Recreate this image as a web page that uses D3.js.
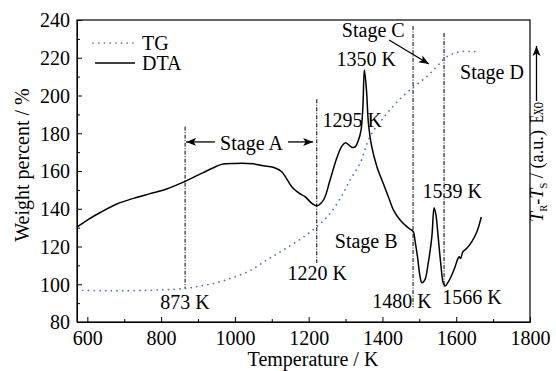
<!DOCTYPE html>
<html>
<head>
<meta charset="utf-8">
<script src="https://cdn.jsdelivr.net/npm/d3@7"></script>
<style>
  body { margin: 0; background: #fff; }
  svg text { font-family: "Liberation Serif", "Times New Roman", serif; }
</style>
</head>
<body>
<div id="chart"></div>
<script>
// DTA curve (temperature K, signal in weight-% axis units)
const dtaTemp = [572, 600, 635, 680, 725, 770, 815, 865, 900, 937, 964, 1000, 1050, 1077, 1104, 1127,
  1140, 1154, 1172, 1190, 1208, 1222, 1240, 1258, 1276, 1290, 1300, 1317, 1326, 1335, 1342, 1347,
  1351, 1357, 1362, 1371, 1385, 1402, 1416, 1430, 1448, 1466, 1479, 1484, 1488, 1495, 1502, 1507,
  1515, 1524, 1534, 1540, 1545, 1551, 1558, 1565, 1570, 1579, 1588, 1597, 1603, 1608, 1612, 1618,
  1628, 1642, 1656, 1668];
const dtaValue = [130.3, 134, 138, 142.5, 145.5, 148, 150.5, 154.5, 157.8, 161.3, 163.5, 164, 163.8, 162.8, 162, 159.6,
  156, 151.7, 148.5, 146.4, 143, 141.6, 144.6, 155.2, 166.7, 173.2, 175, 172.6, 172.8, 176.4, 181.7, 194,
  213.5, 202, 185.3, 172.9, 162.3, 153.5, 146.4, 139.3, 134, 130.5, 128.7, 127.8, 123.4, 114.6, 104, 100.8,
  102.3, 111.1, 125.2, 140.5, 136.7, 125.2, 111.1, 100.5, 99.1, 101.4, 104.9, 109.3, 112.8, 114.6, 113.7, 117.2,
  119, 122.5, 127.8, 135.6];

// TG curve
const tgTemp = [588, 640, 700, 800, 866, 906, 951, 996, 1041, 1086, 1131, 1177, 1222, 1258, 1290, 1312,
  1339, 1366, 1398, 1439, 1484, 1520, 1547, 1574, 1610, 1640, 1664];
const tgValue = [96.8, 96.6, 96.6, 97, 97.8, 99.1, 100.8, 103.7, 107.2, 112.8, 118.1, 123.8, 130.5, 137.5, 147, 155.2,
  164, 178.2, 187, 196.5, 204.5, 210, 215.3, 220.5, 223.2, 223.3, 223.2];

// stage boundary lines: temperature, top and bottom value
const stageTemps = [865, 1222, 1483, 1567];
const stageTops = [183.5, 198, 236.8, 233.1];
const stageBottoms = [97.8, 111.3, 87.8, 98.5];

const xTicks = [600, 800, 1000, 1200, 1400, 1600, 1800];
const yTicks = [80, 100, 120, 140, 160, 180, 200, 220, 240];

// text annotations: label, temperature, value
const labelText = ['873 K', '1220 K', '1295 K', '1350 K', 'Stage A', 'Stage B', 'Stage C', 'Stage D',
  '1539 K', '1480 K', '1566 K'];
const labelTemp = [865, 1223, 1318, 1356, 1045, 1356, 1375, 1697, 1589, 1453, 1643];
const labelValue = [86.9, 102.3, 183.5, 215.6, 171.1, 119.2, 231.2, 208.7, 145.7, 87.6, 89.5];

// arrows: [t0, v0, t1, v1]
const arrows = [
  [946, 175.4, 868, 175.4],
  [1144, 175.4, 1212, 175.4],
  [1418, 229.4, 1526, 216.7]
];

const width = 556;
const height = 371;
const margins = {top: 20, right: 26, bottom: 49, left: 77};
const chartWidth = width - margins.left - margins.right;
const chartHeight = height - margins.top - margins.bottom;

const svg = d3.select('#chart').append('svg')
  .attr('width', width)
  .attr('height', height);

const defs = svg.append('defs');
defs.append('marker')
  .attr('id', 'head')
  .attr('viewBox', '0 0 10 10')
  .attr('refX', 10).attr('refY', 5)
  .attr('markerWidth', 10).attr('markerHeight', 10)
  .attr('markerUnits', 'userSpaceOnUse')
  .attr('orient', 'auto')
  .append('path')
  .attr('d', 'M0,1 L10,5 L0,9 L2.5,5 Z')
  .attr('fill', '#000');

const chart = svg.append('g')
  .attr('transform', `translate(${margins.left}, ${margins.top})`);

const xScale = d3.scaleLinear().domain([572, 1800]).range([0, chartWidth]);
const yScale = d3.scaleLinear().domain([80, 240]).range([chartHeight, 0]);

// minor ticks (inward)
const xMinor = d3.range(700, 1800, 200);
const yMinor = d3.range(90, 240, 20);

chart.append('g')
  .attr('transform', `translate(0, ${chartHeight})`)
  .call(d3.axisBottom(xScale).tickValues(xMinor).tickSize(-3).tickFormat(''))
  .call(g => g.select('.domain').remove());
chart.append('g')
  .call(d3.axisLeft(yScale).tickValues(yMinor).tickSize(-3).tickFormat(''))
  .call(g => g.select('.domain').remove());

const xAxis = chart.append('g')
  .attr('transform', `translate(0, ${chartHeight})`)
  .call(d3.axisBottom(xScale).tickValues(xTicks).tickFormat(d3.format('d'))
    .tickSizeInner(-5).tickSizeOuter(0).tickPadding(6));
const yAxis = chart.append('g')
  .call(d3.axisLeft(yScale).tickValues(yTicks).tickFormat(d3.format('d'))
    .tickSizeInner(-5).tickSizeOuter(0).tickPadding(7));

[xAxis, yAxis].forEach(a => {
  a.selectAll('text').attr('font-size', 20).attr('fill', '#000')
    .style('font-family', '"Liberation Serif", "Times New Roman", serif');
  a.selectAll('line').attr('stroke', '#000');
});
xAxis.selectAll('text').attr('dy', '0.85em');
yAxis.selectAll('text').attr('dy', '0.34em');

// frame
chart.append('rect')
  .attr('width', chartWidth)
  .attr('height', chartHeight)
  .attr('fill', 'none')
  .attr('stroke', '#000')
  .attr('stroke-width', 1.2);

// stage lines
chart.selectAll('.stage')
  .data(stageTemps)
  .enter()
  .append('line')
  .attr('class', 'stage')
  .attr('x1', d => xScale(d)).attr('x2', d => xScale(d))
  .attr('y1', (d, i) => yScale(stageTops[i]))
  .attr('y2', (d, i) => yScale(stageBottoms[i]))
  .attr('stroke', '#000')
  .attr('stroke-width', 1)
  .attr('stroke-dasharray', '4,1.5,1,1.5');

const lineGen = d3.line()
  .x(d => xScale(d[0]))
  .y(d => yScale(d[1]))
  .curve(d3.curveCatmullRom.alpha(0.5));

chart.append('path')
  .datum(tgTemp.map((t, i) => [t, tgValue[i]]))
  .attr('d', lineGen)
  .attr('fill', 'none')
  .attr('stroke', '#4a72c0')
  .attr('stroke-width', 1.7)
  .attr('stroke-linecap', 'round')
  .attr('stroke-dasharray', '0.1,5.6');

chart.append('path')
  .datum(dtaTemp.map((t, i) => [t, dtaValue[i]]))
  .attr('d', lineGen)
  .attr('fill', 'none')
  .attr('stroke', '#000')
  .attr('stroke-width', 1.5);

// annotations
chart.selectAll('.note')
  .data(labelText)
  .enter()
  .append('text')
  .attr('class', 'note')
  .attr('x', (d, i) => xScale(labelTemp[i]))
  .attr('y', (d, i) => yScale(labelValue[i]))
  .attr('text-anchor', 'middle')
  .attr('font-size', 20)
  .text(d => d);

chart.selectAll('.arrow')
  .data(arrows)
  .enter()
  .append('line')
  .attr('class', 'arrow')
  .attr('x1', d => xScale(d[0])).attr('y1', d => yScale(d[1]))
  .attr('x2', d => xScale(d[2])).attr('y2', d => yScale(d[3]))
  .attr('stroke', '#000')
  .attr('stroke-width', 1.3)
  .attr('marker-end', 'url(#head)');

// legend
const legend = svg.append('g');
legend.append('line')
  .attr('x1', 93).attr('x2', 135).attr('y1', 43).attr('y2', 43)
  .attr('stroke', '#4a72c0').attr('stroke-width', 1.7)
  .attr('stroke-linecap', 'round').attr('stroke-dasharray', '0.1,5.6');
legend.append('text').attr('x', 142).attr('y', 50).attr('font-size', 20).text('TG');
legend.append('line')
  .attr('x1', 95).attr('x2', 135).attr('y1', 63).attr('y2', 63)
  .attr('stroke', '#000').attr('stroke-width', 1.5);
legend.append('text').attr('x', 142).attr('y', 70).attr('font-size', 20).text('DTA');

// axis titles
svg.append('text')
  .attr('x', 313).attr('y', 366)
  .attr('text-anchor', 'middle')
  .attr('font-size', 20)
  .text('Temperature / K');

svg.append('text')
  .attr('transform', 'translate(29, 165) rotate(-90)')
  .attr('text-anchor', 'middle')
  .attr('font-size', 20)
  .text('Weight percent / %');

// right side: T_R-T_S / (a.u.)  Exo ->
const right = svg.append('text')
  .attr('transform', 'translate(543, 222) rotate(-90)')
  .attr('font-size', 19)
  .attr('textLength', 92)
  .attr('lengthAdjust', 'spacingAndGlyphs');
right.append('tspan').attr('font-style', 'italic').text('T');
right.append('tspan').attr('font-size', 11).attr('dy', 4).text('R');
right.append('tspan').attr('dy', -4).text('-');
right.append('tspan').attr('font-style', 'italic').text('T');
right.append('tspan').attr('font-size', 11).attr('dy', 4).text('S');
right.append('tspan').attr('dy', -4).text(' / (a.u.)');

svg.append('text')
  .attr('transform', 'translate(543, 123) rotate(-90)')
  .attr('font-size', 19)
  .attr('textLength', 21)
  .attr('lengthAdjust', 'spacingAndGlyphs')
  .text('Exo');

svg.append('line')
  .attr('x1', 536.5).attr('x2', 536.5).attr('y1', 101).attr('y2', 46)
  .attr('stroke', '#000').attr('stroke-width', 1.3)
  .attr('marker-end', 'url(#head)');
</script>
</body>
</html>
